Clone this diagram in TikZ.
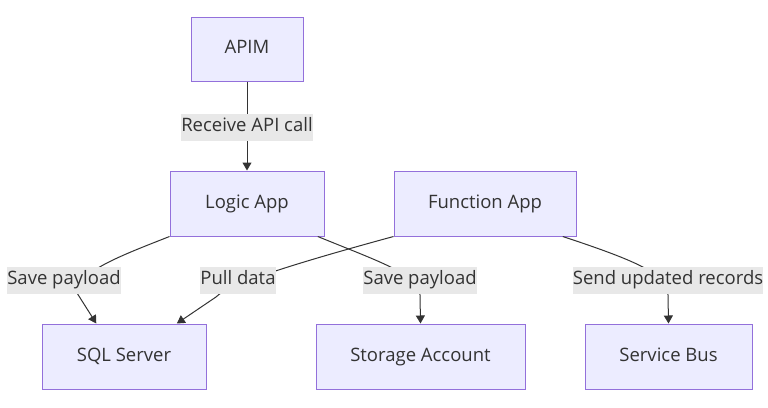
\documentclass[tikz,border=0pt]{standalone}
\usepackage{fontspec}
\setmainfont{Open Sans}
\usetikzlibrary{arrows.meta}

\definecolor{boxfill}{HTML}{ECECFF}
\definecolor{boxline}{HTML}{9370DB}
\definecolor{ink}{HTML}{333333}
\definecolor{lblfill}{HTML}{E8E8E8}

\begin{document}
\begin{tikzpicture}[x=1pt,y=-1pt,
    service/.style={draw=boxline,fill=boxfill,line width=1pt,minimum height=65pt,text=ink,text height=13.5pt,text depth=4.5pt,font=\fontsize{18.5}{22}\selectfont},
    flow/.style={draw=ink,line width=1pt,-{Triangle[length=8pt,width=9pt]}},
    lbl/.style={fill=lblfill,text=ink,inner xsep=0pt,inner ysep=0pt,minimum height=27pt,text height=13.5pt,text depth=4.5pt,font=\fontsize{18.5}{22}\selectfont}]
        \useasboundingbox (0,0) rectangle (768,407);

        \node[service,minimum width=112pt,minimum height=64pt] (apim) at (247,49) {APIM};
        \node[service,minimum width=154pt] (logic) at (247,203.5) {Logic App};
        \node[service,minimum width=182pt] (func) at (485,203.5) {Function App};
        \node[service,minimum width=164pt] (sql) at (124,356.5) {SQL Server};
        \node[service,minimum width=209pt] (storage) at (420.5,356.5) {Storage Account};
        \node[service,minimum width=167pt] (bus) at (668.5,356.5) {Service Bus};

        % edges first, labels on top
        \draw[flow] (apim) -- (logic);
        \draw[flow] (logic.south west) .. controls (120,256) and (77,272) .. (77,293) -- (sql.130);
        \draw[flow] (func.south west) .. controls (300,262) and (228,284) .. (216,297) -- (sql.32);
        \draw[flow] (logic.-25) .. controls (380,262) and (420,275) .. (420,295) -- (storage.north);
        \draw[flow] (func.-23) .. controls (640,262) and (668,275) .. (668,295) -- (bus.north);

        \node[lbl] (l0) at (247,127) {Receive API call};
        \node[lbl] (l1) at (64,280) {Save payload};
        \node[lbl] (l2) at (238,280) {Pull data};
        \node[lbl] (l3) at (420,280) {Save payload};
        \node[lbl] (l4) at (668,280) {Send updated records};
    \end{tikzpicture}
\end{document}
